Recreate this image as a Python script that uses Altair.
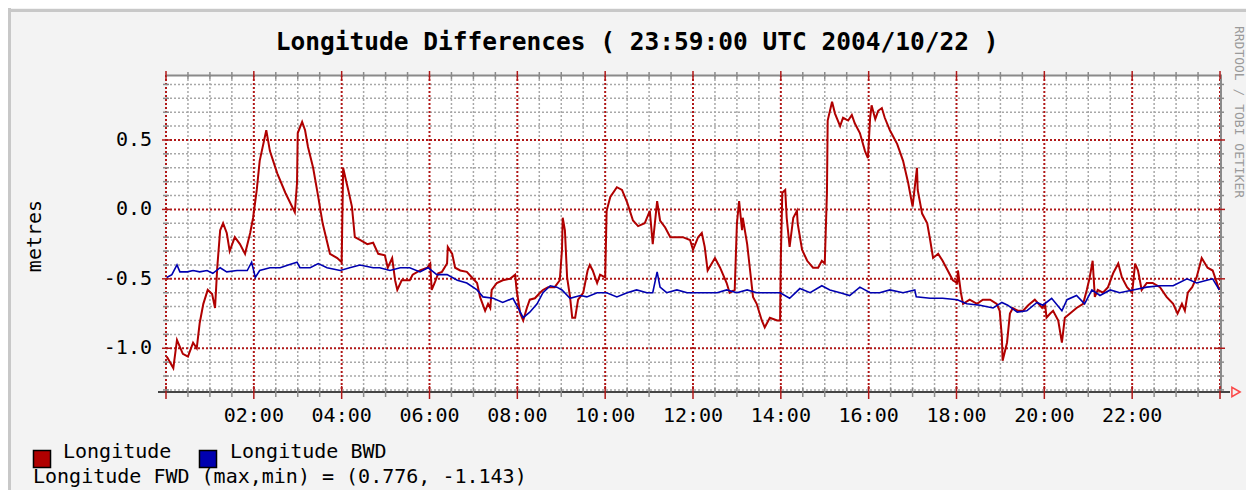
import altair as alt
import pandas as pd

# ---------------- data (minutes after 00:00 UTC, metres) ----------------
fwd_t = [1, 10, 15, 23, 30, 37, 42, 46, 51, 57,
         63, 67, 70, 74, 78, 83, 87, 94, 101, 108,
         115, 119, 124, 128, 137, 142, 152, 163, 176, 179,
         180, 186, 190, 194, 201, 208, 214, 224, 234, 240,
         242, 245, 249, 254, 258, 265, 275, 283, 290, 299,
         303, 309, 313, 316, 322, 333, 337, 347, 357, 361,
         363, 367, 372, 377, 384, 385, 391, 395, 402, 411,
         418, 425, 429, 436, 440, 443, 445, 452, 460, 470,
         477, 479, 484, 488, 493, 497, 504, 511, 515, 522,
         531, 538, 541, 542, 545, 548, 552, 555, 559, 563,
         570, 576, 579, 583, 589, 593, 600, 601, 602, 607,
         616, 623, 630, 638, 645, 654, 661, 665, 671, 675,
         682, 689, 698, 706, 716, 720, 727, 732, 736, 740,
         750, 757, 766, 770, 777, 780, 783, 787, 788, 794,
         798, 802, 807, 814, 818, 825, 835, 839, 840, 842,
         846, 848, 852, 857, 862, 863, 869, 876, 884, 891,
         896, 900, 903, 904, 910, 914, 921, 925, 932, 937,
         941, 948, 955, 959, 962, 964, 969, 973, 978, 982,
         989, 999, 1007, 1014, 1020, 1026, 1027, 1033, 1040, 1044,
         1048, 1055, 1061, 1068, 1075, 1081, 1082, 1086, 1089, 1098,
         1108, 1116, 1126, 1135, 1139, 1142, 1143, 1149, 1153, 1157,
         1164, 1171, 1178, 1187, 1197, 1201, 1203, 1208, 1212, 1219,
         1224, 1228, 1235, 1244, 1253, 1258, 1262, 1266, 1269, 1273,
         1280, 1287, 1294, 1301, 1306, 1313, 1320, 1324, 1328, 1333,
         1340, 1348, 1358, 1367, 1376, 1382, 1388, 1392, 1396, 1402,
         1408, 1415, 1423, 1430, 1439]
fwd_v = [-1.06, -1.143, -0.94, -1.04, -1.06, -0.96, -1.00, -0.82, -0.68, -0.58,
         -0.61, -0.71, -0.42, -0.15, -0.10, -0.17, -0.30, -0.20, -0.25, -0.32,
         -0.17, -0.06, 0.14, 0.35, 0.57, 0.42, 0.26, 0.12, -0.02, 0.19,
         0.55, 0.63, 0.57, 0.45, 0.30, 0.09, -0.10, -0.32, -0.35, -0.38,
         0.30, 0.23, 0.14, 0.02, -0.20, -0.22, -0.25, -0.24, -0.32, -0.33,
         -0.42, -0.35, -0.51, -0.58, -0.51, -0.51, -0.47, -0.44, -0.42, -0.39,
         -0.58, -0.53, -0.46, -0.45, -0.39, -0.27, -0.32, -0.42, -0.44, -0.45,
         -0.49, -0.53, -0.63, -0.73, -0.68, -0.71, -0.58, -0.53, -0.51, -0.50,
         -0.47, -0.58, -0.75, -0.80, -0.71, -0.65, -0.64, -0.60, -0.58, -0.56,
         -0.56, -0.51, -0.29, -0.06, -0.15, -0.49, -0.63, -0.78, -0.78, -0.65,
         -0.60, -0.44, -0.40, -0.44, -0.53, -0.47, -0.49, -0.25, -0.01, 0.09,
         0.16, 0.14, 0.05, -0.08, -0.12, -0.10, -0.01, -0.25, 0.06, -0.08,
         -0.13, -0.20, -0.20, -0.20, -0.22, -0.29, -0.20, -0.17, -0.27, -0.44,
         -0.35, -0.42, -0.53, -0.60, -0.58, -0.10, 0.06, -0.15, -0.06, -0.25,
         -0.44, -0.63, -0.68, -0.80, -0.85, -0.78, -0.80, -0.80, -0.35, 0.12,
         0.14, -0.06, -0.27, -0.06, -0.01, -0.10, -0.29, -0.37, -0.42, -0.42,
         -0.37, -0.39, 0.12, 0.64, 0.776, 0.69, 0.60, 0.66, 0.64, 0.68,
         0.62, 0.55, 0.42, 0.37, 0.66, 0.75, 0.65, 0.71, 0.73, 0.66,
         0.57, 0.47, 0.35, 0.19, 0.02, 0.30, 0.14, -0.03, -0.10, -0.22,
         -0.35, -0.32, -0.37, -0.44, -0.51, -0.53, -0.44, -0.60, -0.68, -0.65,
         -0.68, -0.65, -0.65, -0.68, -0.73, -0.92, -1.09, -0.96, -0.75, -0.71,
         -0.73, -0.73, -0.69, -0.65, -0.71, -0.68, -0.78, -0.75, -0.73, -0.80,
         -0.96, -0.78, -0.75, -0.71, -0.68, -0.58, -0.49, -0.37, -0.63, -0.58,
         -0.60, -0.56, -0.46, -0.39, -0.49, -0.56, -0.60, -0.39, -0.44, -0.58,
         -0.53, -0.53, -0.56, -0.63, -0.68, -0.75, -0.68, -0.73, -0.60, -0.56,
         -0.49, -0.35, -0.42, -0.44, -0.58]

bwd_t = [1, 8, 15, 19, 29, 37, 46, 56, 64, 74,
         83, 97, 111, 117, 122, 128, 142, 156, 167, 179,
         183, 197, 208, 220, 238, 251, 265, 283, 292, 306,
         320, 333, 347, 358, 370, 384, 398, 411, 425, 433,
         447, 460, 474, 481, 488, 497, 507, 515, 525, 534,
         541, 552, 566, 575, 589, 602, 616, 630, 643, 657,
         665, 671, 675, 684, 698, 712, 725, 739, 753, 766,
         780, 794, 807, 821, 839, 852, 866, 880, 896, 907,
         921, 934, 948, 962, 975, 989, 1007, 1023, 1025, 1044,
         1061, 1081, 1094, 1112, 1130, 1142, 1150, 1163, 1176, 1190,
         1198, 1210, 1224, 1231, 1244, 1255, 1265, 1276, 1290, 1303,
         1321, 1340, 1358, 1376, 1395, 1408, 1422, 1430, 1439]
bwd_v = [-0.49, -0.47, -0.40, -0.45, -0.45, -0.44, -0.45, -0.44, -0.46, -0.42,
         -0.45, -0.44, -0.44, -0.38, -0.49, -0.44, -0.42, -0.42, -0.40, -0.38,
         -0.42, -0.42, -0.39, -0.42, -0.44, -0.42, -0.40, -0.42, -0.42, -0.44,
         -0.42, -0.42, -0.45, -0.42, -0.47, -0.47, -0.51, -0.53, -0.58, -0.63,
         -0.64, -0.67, -0.64, -0.71, -0.78, -0.74, -0.68, -0.60, -0.55, -0.56,
         -0.58, -0.64, -0.62, -0.63, -0.60, -0.60, -0.63, -0.60, -0.58, -0.60,
         -0.60, -0.45, -0.56, -0.60, -0.58, -0.60, -0.60, -0.60, -0.60, -0.58,
         -0.60, -0.58, -0.60, -0.60, -0.60, -0.64, -0.57, -0.60, -0.55, -0.58,
         -0.60, -0.62, -0.56, -0.60, -0.60, -0.58, -0.60, -0.58, -0.63, -0.64,
         -0.64, -0.65, -0.68, -0.69, -0.71, -0.67, -0.69, -0.74, -0.73, -0.67,
         -0.69, -0.64, -0.73, -0.65, -0.62, -0.68, -0.58, -0.62, -0.58, -0.60,
         -0.58, -0.56, -0.55, -0.55, -0.50, -0.53, -0.51, -0.50, -0.58]

# grid / tick positions
major_x = [0, 120, 240, 360, 480, 600, 720, 840, 960, 1080, 1200, 1320, 1440]
minor_x = [30, 60, 90, 150, 180, 210, 270, 300, 330, 390, 420, 450, 510, 540, 570,
           630, 660, 690, 750, 780, 810, 870, 900, 930, 990, 1020, 1050,
           1110, 1140, 1170, 1230, 1260, 1290, 1350, 1380, 1410]
major_y = [-1.0, -0.5, 0.0, 0.5]
minor_y = [-1.3, -1.2, -1.1, -0.9, -0.8, -0.7, -0.6, -0.4, -0.3, -0.2, -0.1,
           0.1, 0.2, 0.3, 0.4, 0.6, 0.7, 0.8, 0.9]
x_label_pos = [120, 240, 360, 480, 600, 720, 840, 960, 1080, 1200, 1320]
x_label_txt = ["02:00", "04:00", "06:00", "08:00", "10:00", "12:00",
               "14:00", "16:00", "18:00", "20:00", "22:00"]
y_label_pos = [-1.0, -0.5, 0.0, 0.5]
y_label_txt = ["-1.0", "-0.5", "0.0", "0.5"]

TITLE = "Longitude Differences ( 23:59:00 UTC 2004/10/22 )"
YTITLE = "metres"
SIDE = "RRDTOOL / TOBI OETIKER"
LEG1 = "Longitude"
LEG2 = "Longitude BWD"
LEG3 = "Longitude FWD (max,min) = (0.776, -1.143)"

# ---------------- styling ----------------
W, H = 1054, 317
FONT = "DejaVu Sans Mono"
RED = "#b00000"
BLUE = "#0000b0"
MINOR = "#a8a8a8"
MAJOR = "#b01818"

xs = alt.Scale(domain=[0, 1440], nice=False, zero=False)
ys = alt.Scale(domain=[-1.315, 0.968], nice=False, zero=False)

def X(f="t"):
    return alt.X(f"{f}:Q", scale=xs, axis=None)

def Y(f="v"):
    return alt.Y(f"{f}:Q", scale=ys, axis=None)

dmx = pd.DataFrame({"t": minor_x})
dMx = pd.DataFrame({"t": major_x})
dmy = pd.DataFrame({"v": minor_y})
dMy = pd.DataFrame({"v": major_y})

layers = []
# minor grid
layers.append(alt.Chart(dmx).mark_rule(color=MINOR, strokeWidth=1.5, strokeDash=[2, 2]).encode(x=X()))
layers.append(alt.Chart(dmy).mark_rule(color=MINOR, strokeWidth=1.5, strokeDash=[2, 2]).encode(y=Y()))
# major grid
layers.append(alt.Chart(dMx).mark_rule(color=MAJOR, strokeWidth=2, strokeDash=[2, 2]).encode(x=X()))
layers.append(alt.Chart(dMy).mark_rule(color=MAJOR, strokeWidth=2, strokeDash=[2, 2]).encode(y=Y()))

# data lines
dfw = pd.DataFrame({"t": fwd_t, "v": fwd_v})
dbw = pd.DataFrame({"t": bwd_t, "v": bwd_v})
layers.append(alt.Chart(dfw).mark_line(color=RED, strokeWidth=2, interpolate="linear").encode(x=X(), y=Y()))
layers.append(alt.Chart(dbw).mark_line(color=BLUE, strokeWidth=1.6, interpolate="linear").encode(x=X(), y=Y()))

# frame
one = pd.DataFrame({"a": [0]})
layers.append(alt.Chart(one).mark_rule(color="#8a8a8a", strokeWidth=2).encode(
    x=alt.value(0), x2=alt.value(W + 2), y=alt.value(0.5)))
layers.append(alt.Chart(one).mark_rule(color="#8a8a8a", strokeWidth=2).encode(
    x=alt.value(W + 1), y=alt.value(0), y2=alt.value(H)))
layers.append(alt.Chart(one).mark_rule(color="#444444", strokeWidth=2).encode(
    x=alt.value(-8), x2=alt.value(W + 10), y=alt.value(H)))

# ticks on frame edges
for df, col, ytop, ybot in [(dmx, "#8a8a8a", -3, 4), (dMx, MAJOR, -4, 4),
                            (dmx, "#8a8a8a", H - 4, H + 5), (dMx, MAJOR, H - 6, H + 7)]:
    layers.append(alt.Chart(df).mark_rule(color=col, strokeWidth=1.5).encode(
        x=X(), y=alt.value(ytop), y2=alt.value(ybot)))
for df, col, xl, xr in [(dmy, "#8a8a8a", -3, 3), (dMy, MAJOR, -4, 4),
                        (dmy, "#8a8a8a", W - 3, W + 4), (dMy, MAJOR, W - 4, W + 5)]:
    layers.append(alt.Chart(df).mark_rule(color=col, strokeWidth=1.5).encode(
        y=Y(), x=alt.value(xl), x2=alt.value(xr)))

# arrow at end of time axis
layers.append(alt.Chart(one).mark_point(shape="triangle-right", filled=False, color="#ff0000",
                                        strokeWidth=1.5, size=90).encode(
    x=alt.value(W + 16), y=alt.value(H)))

# axis labels
layers.append(alt.Chart(pd.DataFrame({"t": x_label_pos, "s": x_label_txt})).mark_text(
    font=FONT, fontSize=20, color="#000000", baseline="alphabetic", align="center").encode(
    x=X(), y=alt.value(347), text="s:N"))
layers.append(alt.Chart(pd.DataFrame({"v": y_label_pos, "s": y_label_txt})).mark_text(
    font=FONT, fontSize=20, color="#000000", baseline="middle", align="right").encode(
    y=Y(), x=alt.value(-14), text="s:N"))

def txt(s, x, y, **kw):
    return alt.Chart(pd.DataFrame({"s": [s]})).mark_text(font=FONT, **kw).encode(
        x=alt.value(x), y=alt.value(y), text="s:N")

layers.append(txt(TITLE, 471, -25, fontSize=24.5, fontWeight="bold", color="#000000",
                  align="center", baseline="alphabetic"))
layers.append(txt(YTITLE, -131, 161, fontSize=20, color="#000000", angle=270,
                  align="center", baseline="middle"))
layers.append(txt(SIDE, 1073, 37, fontSize=13, color="#9a9a9a", angle=90,
                  align="center", baseline="middle"))

# legend
leg = pd.DataFrame({"c": [RED, BLUE], "px": [-124, 42]})
layers.append(alt.Chart(leg).mark_square(size=290, opacity=1, stroke="#000000", strokeWidth=1.5).encode(
    x=alt.X("px:Q", scale=None, axis=None), y=alt.value(384),
    fill=alt.Fill("c:N", scale=None, legend=None)))
layers.append(txt(LEG1, -103, 383, fontSize=20, color="#000000", align="left", baseline="alphabetic"))
layers.append(txt(LEG2, 64, 383, fontSize=20, color="#000000", align="left", baseline="alphabetic"))
layers.append(txt(LEG3, -133, 408, fontSize=20, color="#000000", align="left", baseline="alphabetic"))

# outer panel border (light bevel)
layers.append(alt.Chart(one).mark_rule(color="#c8c8c8", strokeWidth=3).encode(
    x=alt.value(-158), x2=alt.value(W + 26), y=alt.value(-64.5)))
layers.append(alt.Chart(one).mark_rule(color="#c8c8c8", strokeWidth=3).encode(
    x=alt.value(-156.5), y=alt.value(-67), y2=alt.value(H + 98)))

chart = alt.layer(*layers).properties(
    width=W, height=H,
    autosize=alt.AutoSizeParams(type="none"),
    padding={"left": 158, "top": 67, "right": 26, "bottom": 98},
).configure(background="#f3f3f3").configure_view(fill="#ffffff", stroke="transparent")

chart.save("out.html", embed_options={"renderer": "svg", "actions": False})
